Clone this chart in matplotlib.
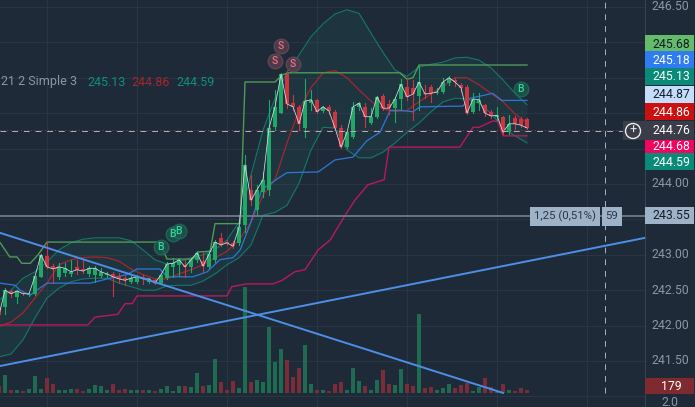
import numpy as np
import matplotlib
matplotlib.use('Agg')
import matplotlib.pyplot as plt
from matplotlib.patches import Rectangle, Circle

plt.rcParams['font.family'] = ['Roboto', 'DejaVu Sans']

# candles
opens = [242.26, 242.26, 242.49, 242.40, 242.46, 242.43, 242.45, 242.69, 242.98, 242.84,
         242.69, 242.74, 242.73, 242.83, 242.80, 242.73, 242.72, 242.70, 242.72, 242.73,
         242.70, 242.67, 242.62, 242.62, 242.69, 242.62, 242.64, 242.60, 242.67, 242.83,
         242.86, 242.86, 242.83, 242.93, 242.91, 242.83, 242.93, 243.24, 243.18, 243.17,
         243.17, 243.42, 243.92, 243.63, 243.89, 243.92, 244.80, 245.00, 245.55, 245.14,
         245.09, 244.79, 245.14, 245.19, 245.03, 245.09, 245.02, 244.79, 244.52, 244.66,
         245.09, 245.09, 244.86, 244.95, 245.24, 245.13, 245.07, 245.20, 245.37, 245.36,
         245.24, 245.28, 245.37, 245.28, 245.30, 245.43, 245.47, 245.40, 245.37, 245.02,
         245.14, 245.12, 245.02, 244.95, 244.95, 244.73, 244.93, 244.92, 244.92]
closes = [242.15, 242.50, 242.45, 242.49, 242.45, 242.45, 242.70, 243.00, 242.83, 242.80,
          242.83, 242.81, 242.76, 242.79, 242.77, 242.81, 242.81, 242.76, 242.73, 242.69,
          242.66, 242.64, 242.67, 242.69, 242.66, 242.66, 242.60, 242.72, 242.87, 242.88,
          242.93, 242.83, 242.93, 243.03, 242.84, 243.01, 243.18, 243.14, 243.17, 243.12,
          243.39, 244.27, 243.77, 243.92, 244.06, 244.79, 245.09, 245.55, 245.13, 245.09,
          244.85, 245.17, 245.19, 245.02, 245.09, 245.03, 244.79, 244.52, 244.73, 245.09,
          245.14, 244.95, 244.95, 245.23, 245.07, 245.07, 245.20, 245.41, 245.23, 245.27,
          245.44, 245.27, 245.28, 245.30, 245.44, 245.50, 245.44, 245.36, 245.00, 245.20,
          245.19, 245.00, 244.96, 244.97, 244.73, 244.85, 244.85, 244.83, 244.79]
highs = [242.36, 242.53, 242.50, 242.50, 242.48, 242.46, 242.70, 243.01, 243.18, 242.87,
         242.88, 242.88, 242.93, 242.93, 242.93, 242.84, 242.84, 242.81, 242.76, 242.76,
         242.74, 242.70, 242.70, 242.72, 242.72, 242.67, 242.66, 242.73, 242.90, 242.96,
         242.96, 242.93, 242.96, 243.05, 243.04, 243.07, 243.21, 243.31, 243.21, 243.20,
         243.42, 244.41, 244.13, 243.99, 244.17, 245.19, 245.33, 245.57, 245.57, 245.26,
         245.12, 245.48, 245.33, 245.20, 245.10, 245.12, 245.04, 244.83, 244.76, 245.16,
         245.16, 245.14, 245.07, 245.24, 245.27, 245.19, 245.23, 245.48, 245.50, 245.47,
         245.67, 245.40, 245.40, 245.36, 245.50, 245.52, 245.50, 245.43, 245.40, 245.28,
         245.28, 245.13, 245.04, 245.09, 244.96, 244.97, 244.96, 244.95, 244.93]
lows = [242.08, 242.16, 242.40, 242.32, 242.43, 242.42, 242.43, 242.69, 242.81, 242.60,
        242.66, 242.70, 242.70, 242.73, 242.74, 242.70, 242.62, 242.69, 242.69, 242.42,
        242.60, 242.57, 242.60, 242.60, 242.59, 242.60, 242.59, 242.59, 242.66, 242.69,
        242.70, 242.69, 242.76, 242.90, 242.76, 242.81, 242.90, 243.12, 243.14, 243.10,
        243.14, 243.32, 243.70, 243.56, 243.82, 243.84, 244.76, 245.00, 245.07, 245.04,
        244.76, 244.66, 245.04, 245.00, 245.02, 244.99, 244.78, 244.51, 244.51, 244.65,
        245.04, 244.80, 244.85, 244.93, 245.04, 244.99, 244.88, 245.04, 245.19, 244.90,
        245.04, 245.21, 245.16, 245.27, 245.28, 245.40, 245.38, 245.30, 244.99, 245.00,
        245.04, 244.96, 244.93, 244.90, 244.71, 244.71, 244.78, 244.80, 244.78]
volumes = [420, 1080, 180, 180, 120, 240, 1020, 240, 900, 540,
           180, 180, 240, 240, 120, 240, 480, 420, 180, 540,
           180, 240, 180, 180, 180, 180, 120, 240, 420, 120,
           420, 420, 360, 1200, 420, 480, 2040, 660, 180, 720,
           300, 6360, 660, 780, 660, 3960, 1860, 2640, 1980, 960,
           1500, 2880, 540, 180, 180, 120, 540, 660, 180, 1500,
           720, 420, 180, 780, 1380, 540, 480, 1440, 540, 420,
           4740, 300, 360, 180, 300, 540, 300, 480, 600, 120,
           360, 900, 360, 60, 540, 180, 120, 300, 179]

# bollinger bands, one value every 2 candles
bb_idx = list(range(0, 89, 2))
bb_upper = [242.36, 242.50, 242.67, 242.76, 242.90, 243.07, 243.17, 243.22, 243.24, 243.24,
            243.24, 243.20, 243.07, 242.93, 242.87, 242.90, 242.96, 243.00, 243.07, 243.21,
            243.46, 244.13, 244.76, 245.21, 245.58, 245.82, 246.08, 246.26, 246.40, 246.46,
            246.41, 246.13, 245.86, 245.61, 245.52, 245.65, 245.69, 245.72, 245.78, 245.79,
            245.75, 245.64, 245.47, 245.28, 245.12]
bb_lower = [241.56, 241.60, 241.80, 242.11, 242.39, 242.53, 242.62, 242.66, 242.67, 242.67,
            242.60, 242.55, 242.50, 242.50, 242.56, 242.57, 242.57, 242.63, 242.73, 242.86,
            242.96, 243.14, 243.56, 243.60, 243.70, 244.01, 244.48, 244.80, 244.79, 244.48,
            244.37, 244.37, 244.45, 244.58, 244.73, 244.86, 245.02, 245.16, 245.21, 245.20,
            245.14, 245.00, 244.79, 244.68, 244.58]
bb_basis = [241.99, 242.05, 242.18, 242.39, 242.60, 242.86, 242.93, 242.96, 242.97, 242.96,
            242.91, 242.80, 242.72, 242.66, 242.66, 242.73, 242.79, 242.86, 242.96, 243.05,
            243.21, 243.46, 243.84, 244.06, 244.58, 245.04, 245.36, 245.57, 245.60, 245.50,
            245.33, 245.17, 245.06, 245.02, 245.04, 245.16, 245.27, 245.38, 245.50, 245.50,
            245.40, 245.28, 245.16, 244.99, 244.86]

# step lines
blue_idx = [0.2, 2.7, 3.5, 5.2, 6.8, 8, 15.2, 18.5, 21.3, 23, 26.8, 28, 32.3, 34.7, 36.8, 39, 40.2, 41.8,
            43.8, 46.5, 48, 53.2, 56, 59, 61.3, 63.5, 65.2, 66.8, 69, 70.2, 77.3, 78.5, 82.3, 83.8, 88]
blue_val = [242.60, 242.57, 242.50, 242.43, 242.53, 242.60, 242.60, 242.67, 242.72, 242.80, 242.80, 242.69,
            242.69, 242.76, 242.93, 242.96, 243.07, 243.42, 243.92, 244.08, 244.16, 244.17, 244.34, 244.38,
            244.61, 244.73, 245.04, 245.04, 245.02, 245.09, 245.10, 245.21, 245.28, 245.18, 245.18]
green_idx = [0.2, 1.8, 3, 3.8, 5.2, 6.5, 8, 26.8, 28, 32.3, 33.2, 35.2, 36, 40.2, 41, 46, 47.2, 48.2,
             66.8, 68, 69, 70, 88]
green_val = [243.17, 242.97, 242.97, 242.88, 242.88, 243.00, 243.18, 243.18, 242.94, 242.94, 243.04, 243.05,
             243.44, 243.44, 245.44, 245.44, 245.54, 245.57, 245.57, 245.48, 245.50, 245.68, 245.68]
magenta_idx = [0.2, 14.8, 16, 19.8, 21, 22.2, 23, 38, 38.8, 41.3, 45.7, 47.2, 49.3, 51, 53.2, 55.2, 57.7,
               59.3, 61.5, 64.2, 65, 76.8, 79, 80, 82.3, 83.2, 84, 88]
magenta_val = [242.01, 242.01, 242.12, 242.16, 242.31, 242.31, 242.42, 242.42, 242.55, 242.59, 242.59, 242.64,
               242.76, 242.79, 243.07, 243.21, 243.56, 243.77, 243.99, 244.06, 244.52, 244.52, 244.80, 244.80,
               244.89, 244.88, 244.68, 244.68]

# drawn trend lines
trend1_idx = [0.17, 84]
trend1_val = [243.31, 241.05]
trend2_idx = [0.17, 107.7]
trend2_val = [241.43, 243.24]

# signals
buy_idx = [27, 29, 30, 87]
buy_val = [243.11, 243.29, 243.34, 245.34]
sell_idx = [47, 46, 49]
sell_val = [245.95, 245.74, 245.69]

# price scale
scale_prices = [246.50, 244.00, 243.00, 242.50, 242.00, 241.50]
tag_labels = ['245.68', '245.18', '245.13', '244.87', '244.86', '244.68', '244.59', '244.76', '243.55', '179']
tag_rows = [44, 60, 77, 95, 112, 146, 162, 131, 216, 386]
tag_fill = ['#66bb6a', '#2f7bf0', '#0a8a78', '#c5dcfb', '#cc1010', '#f0065f', '#0a8a78', '#3a3d47', '#9fb3c8', '#7f2a30']
tag_text = ['#10202a', '#ffffff', '#ffffff', '#10202a', '#ffffff', '#ffffff', '#ffffff', '#ffffff', '#10202a', '#ffffff']

W, H = 695, 407
BG = '#1e2a38'
GRID = '#2a3644'
UP = '#20a866'
DOWN = '#cf3540'

fig = plt.figure(figsize=(W / 100, H / 100), dpi=100, facecolor=BG)
ax_vol = fig.add_axes([0, 0, 1, 1], facecolor=BG)
ax = fig.add_axes([0, 0, 1, 1], facecolor='none')
for a in (ax, ax_vol):
    a.set_axis_off()
    a.set_xlim((0 + 1) / 6, (W + 1) / 6)
ax.set_ylim(244 - 223 * 0.01412, 244 + 184 * 0.01412)
ax_vol.set_ylim(-14 * 60, 393 * 60)


def px(x):
    return x / W


def py(y):
    return 1 - y / H


# grid
for p in np.arange(241.0, 247.0, 0.5):
    ax_vol.plot([px(0), px(645)], [(p - ax.get_ylim()[0]) / (ax.get_ylim()[1] - ax.get_ylim()[0])] * 2,
                color=GRID, lw=0.7, transform=ax_vol.transAxes, zorder=0)
for x in range(47, 640, 90):
    ax_vol.plot([px(x), px(x)], [0, 1], color=GRID, lw=0.7, transform=ax_vol.transAxes, zorder=0)

# volume
idx = np.arange(len(opens))
up = np.array(closes) >= np.array(opens)
ax_vol.bar(idx, volumes, width=0.78, color=['#1f6b52' if u else '#7a2c38' for u in up], zorder=1)

# bands
ax.fill_between(bb_idx, bb_lower, bb_upper, color='#1f8a80', alpha=0.11, lw=0, zorder=2)
ax.plot(bb_idx, bb_upper, color='#14786a', lw=0.8, zorder=3)
ax.plot(bb_idx, bb_lower, color='#14786a', lw=0.8, zorder=3)
ax.plot(bb_idx, bb_basis, color='#a82530', lw=0.9, zorder=3)
ax.plot(magenta_idx, magenta_val, color='#b81a5a', lw=1.0, zorder=3)
ax.plot(blue_idx, blue_val, color='#2f74d0', lw=0.95, zorder=3)
ax.plot(green_idx, green_val, color='#4f9a58', lw=1.0, zorder=3)

# candles
for i in idx:
    col = UP if up[i] else DOWN
    ax.plot([i, i], [lows[i], highs[i]], color=col, lw=0.8, zorder=4)
    ax.bar(i, abs(closes[i] - opens[i]), bottom=min(opens[i], closes[i]), width=0.8, color=col, zorder=5)
ax.plot(idx, closes, color='#d5dee8', lw=0.55, zorder=6)

# level line, crosshair, last price
ax.axhline(243.55, xmax=px(645), color='#6e7b87', lw=1.3, zorder=3)
ax_vol.plot([px(605), px(605)], [py(393), 1], color='#aab5bf', lw=0.7, dashes=(6, 6),
            transform=ax_vol.transAxes, zorder=7)
fig.add_artist(plt.Line2D([0, px(625)], [py(131), py(131)], color='#aab5bf', lw=0.7, dashes=(6, 6)))
fig.add_artist(plt.Line2D([0, px(645)], [py(130), py(130)], color='#a83446', lw=0.7, dashes=(1, 2.5)))

# trend lines
ax.plot(trend1_idx, trend1_val, color='#4d8fe6', lw=1.4, zorder=8)
ax.plot(trend2_idx, trend2_val, color='#4d8fe6', lw=1.4, zorder=8)


def bubble(i, p, letter, fill, edge, color):
    ax.plot(i, p, 'o', ms=10.5, mfc=fill, mec=edge, mew=1.0, alpha=0.8, zorder=9)
    ax.text(i, p, letter, color=color, fontsize=7.5, ha='center', va='center', weight='medium', zorder=10)


for i, p in zip(buy_idx, buy_val):
    bubble(i, p, 'B', '#1b5a4e', '#1f6e5c', '#35d59a')
for i, p in zip(sell_idx, sell_val):
    bubble(i, p, 'S', '#5a3f4c', '#6a4a58', '#e8708a')

# legend
fig.text(px(1), py(82), '21 2 Simple 3', color='#8b97a5', fontsize=9, va='center')
fig.text(px(87), py(82), '245.13', color='#0f8f7d', fontsize=9, va='center')
fig.text(px(131), py(82), '244.86', color='#a82530', fontsize=9, va='center')
fig.text(px(176), py(82), '244.59', color='#0f8f7d', fontsize=9, va='center')


def fig_box(x0, y0, x1, y1, fill, z=20):
    fig.add_artist(Rectangle((px(x0), py(y1)), px(x1 - x0), (y1 - y0) / H, facecolor=fill,
                             edgecolor='none', transform=fig.transFigure, zorder=z))


# price scale
fig.add_artist(plt.Line2D([px(645), px(645)], [0, 1], color='#3a4654', lw=0.7, zorder=16))
for p in scale_prices:
    fig.text(px(670), py(184 + (244 - p) * 70.8), '%.2f' % p, color='#8b97a5', fontsize=8.8,
             ha='center', va='center', zorder=18)
fig.text(px(670), py(402), '2.0', color='#8b97a5', fontsize=8.8, ha='center', va='center', zorder=18)

for lab, row, fill, tc in zip(tag_labels, tag_rows, tag_fill, tag_text):
    z = 21 if lab == '244.76' else 20
    if lab == '244.76':
        fig_box(623, row - 10, 694, row + 9, fill, z=z)
    elif lab == '179':
        fig_box(645, row - 8, 694, row + 8, fill, z=z)
    elif lab == '244.68':
        fig_box(645, row - 6, 694, row + 8, fill, z=z)
    else:
        fig_box(645, row - 9, 694, row + 8, fill, z=z)
    fig.text(px(671), py(row), lab, color=tc, fontsize=8.8, ha='center', va='center', zorder=z + 1)

# measure boxes
fig_box(530, 207, 600, 226, '#9fb3c8', z=20)
fig_box(602, 207, 622, 226, '#9fb3c8', z=20)
fig.text(px(565), py(216), '1,25 (0,51%)', color='#2a3644', fontsize=8.2, ha='center', va='center', zorder=21)
fig.text(px(612), py(216), '59', color='#2a3644', fontsize=8.2, ha='center', va='center', zorder=21)

# plus button
fig.add_artist(Circle((633 / 100, (H - 131) / 100), 7.5 / 100, facecolor='none', edgecolor='#e8edf2',
                      lw=1.0, transform=fig.dpi_scale_trans, zorder=23))
fig.text(px(633), py(130.5), '+', color='#e8edf2', fontsize=9, ha='center', va='center', zorder=23)

fig.savefig('out.png', dpi=100, facecolor=BG)
